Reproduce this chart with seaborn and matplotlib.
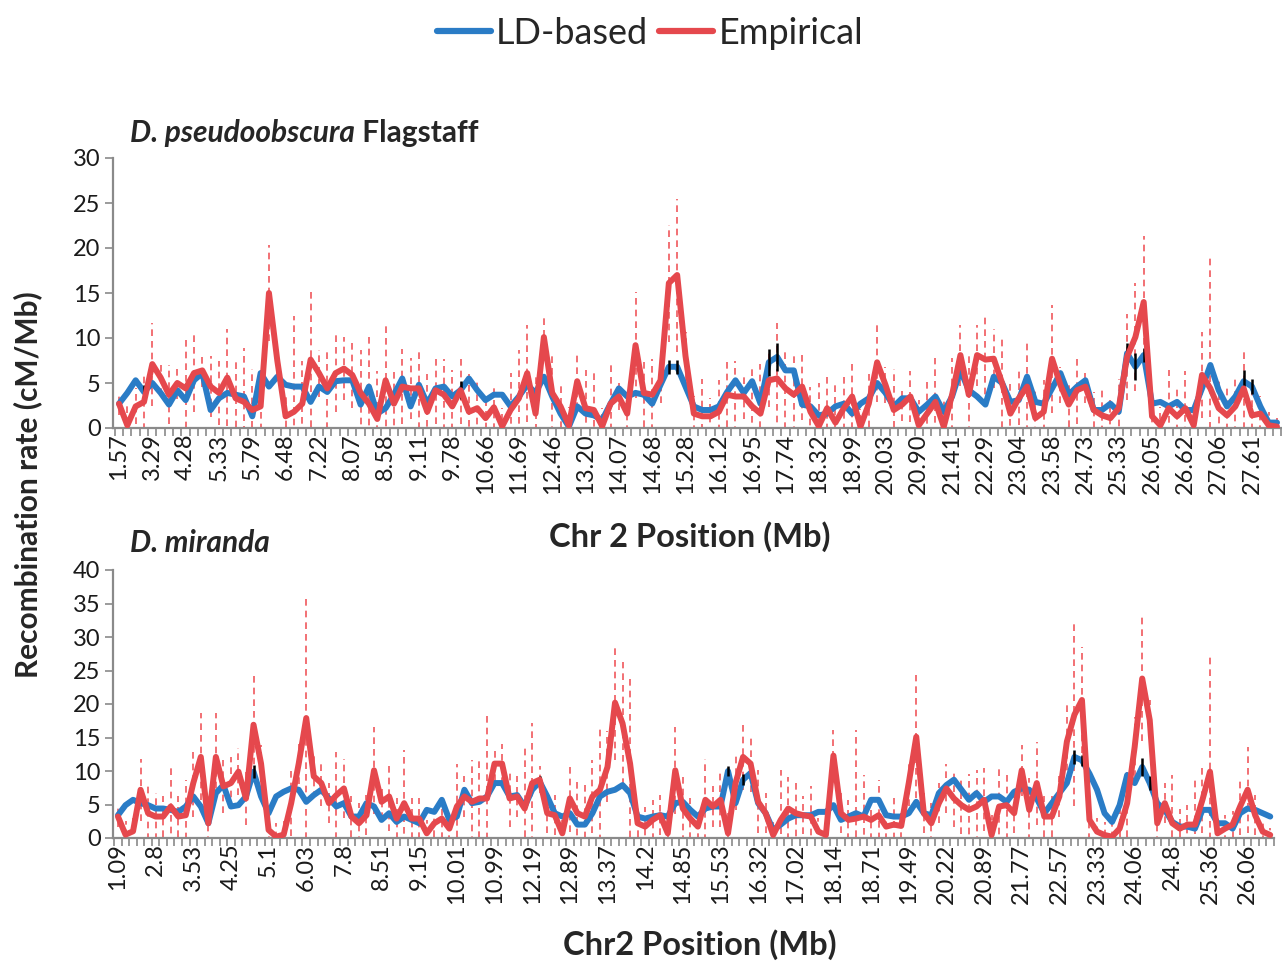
import numpy as np
import pandas as pd
import matplotlib
matplotlib.use("Agg")
import matplotlib.pyplot as plt
import seaborn as sns

sns.set_theme(style="white")
plt.rcParams["font.family"] = ["Lato", "DejaVu Sans"]

# ---------------- data ----------------
top_labels = ["1.57", "3.29", "4.28", "5.33", "5.79", "6.48", "7.22", "8.07", "8.58", "9.11",
              "9.78", "10.66", "11.69", "12.46", "13.20", "14.07", "14.68", "15.28", "16.12", "16.95",
              "17.74", "18.32", "18.99", "20.03", "20.90", "21.41", "22.29", "23.04", "23.58", "24.73",
              "25.33", "26.05", "26.62", "27.06", "27.61"]
bot_labels = ["1.09", "2.8", "3.53", "4.25", "5.1", "6.03", "7.8", "8.51", "9.15", "10.01",
              "10.99", "12.19", "12.89", "13.37", "14.2", "14.85", "15.53", "16.32", "17.02", "18.14",
              "18.71", "19.49", "20.22", "20.89", "21.77", "22.57", "23.33", "24.06", "24.8", "25.36",
              "26.06"]

ld_top = [2.7, 3.9, 5.3, 4.0, 5.0, 3.9, 2.6, 4.2, 3.1, 5.3,
          6.1, 2.0, 3.3, 3.9, 3.7, 3.5, 1.3, 6.1, 4.6, 5.7,
          4.8, 4.6, 4.6, 2.9, 4.6, 4.0, 5.2, 5.3, 5.3, 2.6,
          4.6, 1.6, 2.2, 3.7, 5.5, 2.4, 4.8, 2.7, 4.4, 4.6,
          3.5, 4.2, 5.5, 4.2, 3.1, 3.7,
          3.7, 2.4, 3.5, 4.8, 3.9, 5.7, 3.5, 1.6, 0.15, 2.4,
          1.6, 1.4, 0.9, 2.7, 4.4, 3.5, 3.9, 3.7, 2.7, 4.8,
          6.8, 6.8, 4.6, 2.4, 2.0, 2.0, 2.4, 4.0, 5.3, 3.9,
          5.2, 2.7, 7.3, 7.9, 6.4, 6.4, 2.6, 2.4, 1.4, 1.6,
          2.4, 2.7, 1.6,
          2.7, 3.3, 5.0, 3.9, 2.4, 3.3, 3.3, 1.8, 2.6, 3.5,
          1.8, 3.5, 6.4, 4.2, 3.5, 2.6, 5.7, 5.0, 2.9, 3.1,
          5.7, 2.9, 2.7, 4.4, 6.1, 3.7, 4.6, 5.3, 2.0, 2.0,
          2.7, 1.8, 8.3, 6.8, 8.1, 2.7, 2.9, 2.4, 2.9, 2.0,
          2.0, 4.4, 7.0, 4.2, 2.4, 3.5, 5.2, 4.6, 2.4, 0.6,
          0.6]
emp_top = [2.7, 0.3, 2.4, 2.9, 7.1, 5.6, 3.7, 5.0, 4.4, 6.1,
           6.4, 4.6, 3.9, 5.6, 3.3, 2.9, 2.0, 2.4, 15.0, 7.5,
           1.3, 1.8, 2.7, 7.6, 6.1, 4.4, 6.1, 6.6, 5.9, 3.9,
           2.7, 1.0, 5.3, 2.7, 4.6, 4.4, 4.4, 1.8, 4.2, 3.7,
           2.4, 4.2, 1.8, 2.2, 1.1, 2.3,
           0.2, 2.0, 3.3, 6.1, 1.6, 10.1, 3.9, 2.4, 0.3, 5.2,
           2.2, 2.0, 0.2, 2.7, 3.5, 1.6, 9.2, 3.9, 3.7, 5.3,
           16.1, 17.0, 8.0, 1.6, 1.3, 1.3, 1.8, 3.7, 3.5, 3.5,
           2.4, 1.6, 5.3, 5.5, 4.4, 3.7, 4.6, 1.8, 0.2, 2.2,
           0.6, 2.2, 3.5,
           0.15, 2.7, 7.3, 4.8, 2.0, 2.6, 3.5, 0.3, 1.6, 2.9,
           0.15, 3.7, 8.1, 3.7, 8.1, 7.6, 7.7, 5.0, 1.6, 3.3,
           4.6, 1.1, 1.8, 7.7, 4.8, 2.6, 4.2, 4.6, 2.0, 1.4,
           1.1, 2.2, 7.9, 10.1, 14.0, 1.3, 0.3, 2.2, 1.3, 2.2,
           0.3, 5.9, 4.4, 2.2, 1.4, 2.4, 4.4, 1.4, 1.6, 0.3,
           0.15]
emp_top_err = [1.2, 2.5, 2.0, 3.1, 4.6, 1.9, 3.3, 1.8, 5.7, 4.3,
               1.8, 3.4, 3.6, 5.4, 4.5, 6.0, 4.6, 4.0, 5.3, 1.9,
               2.5, 10.6, 4.8, 7.5, 2.6, 4.5, 4.3, 3.5, 3.7, 4.8,
               7.6, 5.3, 6.4, 3.7, 4.2, 3.4, 4.5, 4.2, 3.8, 4.0,
               4.0, 3.8, 4.2, 3.1, 2.5, 2.5, 2.0, 4.1, 5.4, 5.4,
               4.5, 2.5, 4.4, 2.4, 2.0, 3.1, 4.2, 4.4, 2.0, 4.3,
               1.5, 2.0, 5.9, 3.8, 4.0, 2.5, 6.5, 8.5, 2.7, 2.0,
               4.2, 2.0, 3.5, 3.6, 4.0, 2.5, 4.4, 5.5, 3.0, 6.2,
               4.5, 4.3, 3.7, 2.8, 4.8, 3.7, 4.4, 3.7, 3.6, 2.0,
               3.9, 4.4, 2.0, 4.6, 1.8, 2.8, 2.8, 3.7, 4.9, 3.1,
               4.1, 3.4, 4.3, 3.4, 5.1, 3.3, 5.0, 3.9, 3.0, 5.0,
               3.0, 3.5, 6.0, 2.0, 2.5, 3.8, 1.8, 2.0, 3.2, 2.0,
               3.3, 4.8, 6.0, 7.3, 2.0, 2.0, 4.2, 3.0, 4.1, 2.0,
               4.8, 14.8, 3.0, 3.0, 3.0, 4.5, 3.0, 2.0, 1.5, 1.0]
ld_top_err_idx = [3, 41, 66, 67, 78, 79, 121, 122, 123, 135, 136]
ld_top_err_val = [0.8, 1.0, 0.8, 0.8, 1.5, 1.6, 1.2, 1.5, 0.8, 1.3, 0.8]

ld_bot = [3.4, 4.9, 5.7, 5.2, 4.9, 4.4, 4.4, 4.2, 3.9, 4.7,
          6.2, 4.7, 2.2, 6.7, 7.9, 4.7, 4.9, 6.2, 9.9, 6.2,
          3.7, 6.2, 6.9, 7.4, 7.2, 5.4, 6.4, 7.2, 5.9, 4.7,
          5.2, 3.2, 3.2, 5.2, 4.7, 2.7, 3.7, 2.4, 3.2, 2.7,
          2.2, 4.2, 3.9, 5.7, 2.7, 3.2, 7.2, 5.2, 5.4, 6.2,
          8.2, 8.2,
          6.2, 6.4, 4.7, 7.2, 8.4, 6.2, 3.7, 3.2, 3.7, 2.0,
          2.0, 3.7, 6.2, 6.9, 7.2, 7.9, 6.7, 3.2, 2.9, 3.2,
          3.4, 3.2, 5.2, 5.4, 4.2, 3.2, 4.4, 4.7, 4.7, 10.0,
          5.2, 8.7, 9.7, 5.2, 3.7, 1.2, 2.0, 2.9, 3.4, 3.4,
          3.4, 3.9, 3.9, 4.9, 2.7, 3.2, 3.7, 3.2,
          5.7, 5.7, 3.4, 3.2, 3.2, 3.7, 5.4, 3.7, 3.4, 6.7,
          7.9, 8.7, 7.2, 5.7, 6.7, 5.4, 6.2, 6.2, 5.4, 6.9,
          7.4, 7.2, 5.9, 3.7, 5.2, 6.7, 8.2, 12.1, 11.6, 9.6,
          7.2, 3.7, 2.4, 4.9, 9.4, 8.2, 10.6, 8.2, 5.2, 4.2,
          2.4, 1.7, 1.7, 1.4, 4.2, 4.2, 2.2, 2.2, 1.4, 3.7,
          4.4, 4.2, 3.7, 3.2]
emp_bot = [3.2, 0.5, 1.0, 7.2, 3.7, 3.2, 3.2, 4.7, 3.2, 3.4,
           8.2, 12.1, 2.2, 12.1, 7.7, 8.2, 9.9, 5.9, 16.9, 11.1,
           1.2, 0.2, 0.5, 5.2, 11.1, 17.9, 9.2, 8.2, 5.2, 6.4,
           7.4, 3.2, 2.2, 3.4, 10.1, 5.4, 6.2, 2.9, 5.2, 2.9,
           2.9, 0.7, 2.2, 2.9, 1.4, 4.7, 6.2, 5.4, 5.9, 5.9,
           11.1, 11.1,
           5.9, 6.2, 4.4, 8.2, 8.7, 3.7, 3.4, 0.7, 5.9, 3.7,
           3.2, 6.2, 7.2, 10.6, 20.2, 17.1, 11.1, 2.2, 1.7, 2.7,
           3.4, 0.7, 10.1, 4.4, 2.9, 1.7, 5.7, 4.7, 5.7, 0.7,
           8.2, 12.1, 11.1, 5.4, 3.7, 0.45, 2.7, 4.4, 3.7, 3.4,
           3.2, 0.95, 0.45, 12.3, 3.7, 2.7, 2.9, 3.2,
           2.7, 3.4, 1.7, 2.0, 1.8, 8.2, 15.1, 3.7, 2.2, 5.2,
           7.4, 5.9, 4.9, 4.2, 4.7, 5.7, 0.45, 4.7, 4.9, 3.7,
           10.1, 4.2, 8.2, 3.2, 3.2, 6.2, 14.4, 18.4, 20.6, 2.7,
           0.95, 0.45, 0.2, 1.4, 5.2, 13.6, 23.8, 17.6, 2.2, 5.2,
           2.2, 1.4, 2.0, 2.0, 5.7, 9.9, 0.7, 1.4, 2.0, 4.7,
           7.2, 3.4, 0.95, 0.45]
emp_bot_err = [1.5, 2.0, 2.0, 4.6, 4.0, 3.5, 3.0, 5.7, 3.0, 5.3,
               5.0, 6.5, 3.0, 6.5, 3.9, 3.9, 3.5, 4.0, 7.7, 2.8,
               2.0, 2.0, 2.0, 4.9, 3.0, 18.1, 3.2, 3.4, 3.0, 6.5,
               4.4, 3.0, 3.0, 3.0, 6.5, 2.5, 5.2, 3.0, 8.0, 3.0,
               3.0, 2.0, 2.0, 3.0, 2.0, 6.4, 3.0, 6.2, 5.9, 13.0,
               2.6, 3.0, 4.2, 3.0, 9.5, 8.9, 2.0, 3.0, 3.0, 2.0,
               5.0, 5.0, 5.0, 5.4, 9.4, 5.3, 8.6, 9.2, 12.7, 2.0,
               3.0, 3.0, 3.0, 3.0, 6.5, 5.0, 3.0, 2.0, 6.1, 3.0,
               4.0, 3.0, 4.0, 5.0, 4.3, 4.7, 3.0, 2.0, 7.4, 4.7,
               5.2, 2.8, 4.5, 2.0, 2.0, 3.8, 3.0, 3.0, 13.2, 6.2,
               3.0, 5.3, 2.0, 3.9, 2.0, 3.4, 9.2, 3.0, 3.0, 3.0,
               3.7, 4.2, 4.3, 5.4, 5.4, 4.7, 3.0, 5.9, 5.2, 3.0,
               3.8, 4.7, 6.2, 3.0, 3.0, 3.0, 6.0, 13.6, 7.9, 3.0,
               2.0, 2.0, 2.0, 3.0, 5.0, 4.5, 9.3, 3.0, 3.0, 3.0,
               7.2, 3.0, 3.0, 6.7, 4.9, 17.1, 2.0, 2.0, 2.0, 4.2,
               6.4, 3.0, 1.5, 1.0]
ld_bot_err_idx = [18, 56, 81, 83, 127, 128, 136, 137]
ld_bot_err_val = [1.0, 0.8, 0.8, 0.8, 1.0, 0.8, 1.3, 1.0]

assert len(ld_top) == len(emp_top) == len(emp_top_err) == 140
assert len(ld_bot) == len(emp_bot) == len(emp_bot_err) == 154

# ---------------- style ----------------
BLUE = "#2a7cc6"
RED = "#e5484d"
RED_ERR = "#f0585c"
GRAY = "#8a8a8a"

W, H = 1282, 964
fig = plt.figure(figsize=(W / 100, H / 100), dpi=100)
fig.patch.set_facecolor("white")

ax1 = fig.add_axes([113 / W, (H - 428) / H, (W - 113) / W, 270 / H])
ax2 = fig.add_axes([113 / W, (H - 838) / H, (1274 - 113) / W, 268 / H])


def panel(ax, ld, emp, emp_err, ldi, lde, labels, step, ymax, xlim):
    n = len(ld)
    idx = np.arange(n)
    ld = np.asarray(ld)
    emp = np.asarray(emp)
    df = pd.DataFrame({
        "pos": np.concatenate([idx, idx]),
        "rate": np.concatenate([ld, emp]),
        "series": ["LD-based"] * n + ["Empirical"] * n,
    })
    eb = ax.errorbar(idx, emp, yerr=np.asarray(emp_err), fmt="none", ecolor=RED_ERR,
                     elinewidth=1.2, zorder=1)
    eb[2][0].set_linestyle((0, (4, 3)))
    sns.lineplot(data=df, x="pos", y="rate", hue="series",
                 palette={"LD-based": BLUE, "Empirical": RED},
                 linewidth=4.3, legend=False, ax=ax, sort=False, estimator=None)
    for ln in ax.lines:
        c = matplotlib.colors.to_hex(ln.get_color())
        ln.set_solid_joinstyle("round")
        ln.set_zorder(2 if c == BLUE else 4)
    ax.errorbar(np.asarray(ldi), ld[ldi], yerr=np.asarray(lde), fmt="none",
                ecolor="black", elinewidth=1.8, zorder=3)

    ax.set_xlim(*xlim)
    ax.set_ylim(0, ymax)
    ax.set_yticks(np.arange(0, ymax + 1, 5))
    ax.set_xticks(idx[::step])
    ax.set_xticklabels(labels, rotation=90)
    ax.set_xticks(np.arange(-0.5, n + 0.5, 1), minor=True)
    ax.set_xlabel("")
    ax.set_ylabel("")
    for s in ["top", "right"]:
        ax.spines[s].set_visible(False)
    for s in ["left", "bottom"]:
        ax.spines[s].set_color(GRAY)
        ax.spines[s].set_linewidth(1.6)
    ax.tick_params(axis="x", which="major", length=0, pad=4, labelsize=17, labelcolor="#1a1a1a")
    ax.tick_params(axis="x", which="minor", length=6, width=1.2, color=GRAY, direction="out", bottom=True)
    ax.tick_params(axis="y", which="major", length=6, width=1.2, color=GRAY, direction="out",
                   left=True, labelsize=17, labelcolor="#1a1a1a", pad=3)
    ax.grid(False)
    ax.set_facecolor("white")


panel(ax1, ld_top, emp_top, emp_top_err, ld_top_err_idx, ld_top_err_val,
      top_labels, 4, 30, (-0.72, 139.6))
panel(ax2, ld_bot, emp_bot, emp_bot_err, ld_bot_err_idx, ld_bot_err_val,
      bot_labels, 5, 40, (-0.66, 153.5))

# ---------------- texts ----------------
fig.canvas.draw()
renderer = fig.canvas.get_renderer()

t1 = fig.text(130 / W, 1 - 133 / H, "D. pseudoobscura", fontsize=21.5, fontweight="bold",
              fontstyle="italic", va="center", ha="left")
bb = t1.get_window_extent(renderer=renderer)
fig.text(bb.x1 / W, 1 - 133 / H, "\u00a0Flagstaff", fontsize=21.5, fontweight="bold",
         va="center", ha="left")
fig.text(130 / W, 1 - 543 / H, "D. miranda", fontsize=21.5, fontweight="bold",
         fontstyle="italic", va="center", ha="left")

fig.text(690 / W, 1 - 537 / H, "Chr 2 Position (Mb)", fontsize=23.5, fontweight="bold",
         ha="center", va="center")
fig.text(700 / W, 1 - 945 / H, "Chr2 Position (Mb)", fontsize=23.5, fontweight="bold",
         ha="center", va="center")
fig.text(28 / W, 1 - 485 / H, "Recombination rate (cM/Mb)", fontsize=21.5, fontweight="bold",
         rotation=90, ha="center", va="center")

handles = [matplotlib.lines.Line2D([], [], color=BLUE, linewidth=4.5),
           matplotlib.lines.Line2D([], [], color=RED, linewidth=4.5)]
fig.legend(handles, ["LD-based", "Empirical"], loc="center",
           bbox_to_anchor=(650 / W, 1 - 33 / H), ncol=2, frameon=False, fontsize=26,
           handlelength=1.5, handletextpad=0.15, columnspacing=0.3)

fig.savefig("out.png", dpi=100, facecolor="white")
